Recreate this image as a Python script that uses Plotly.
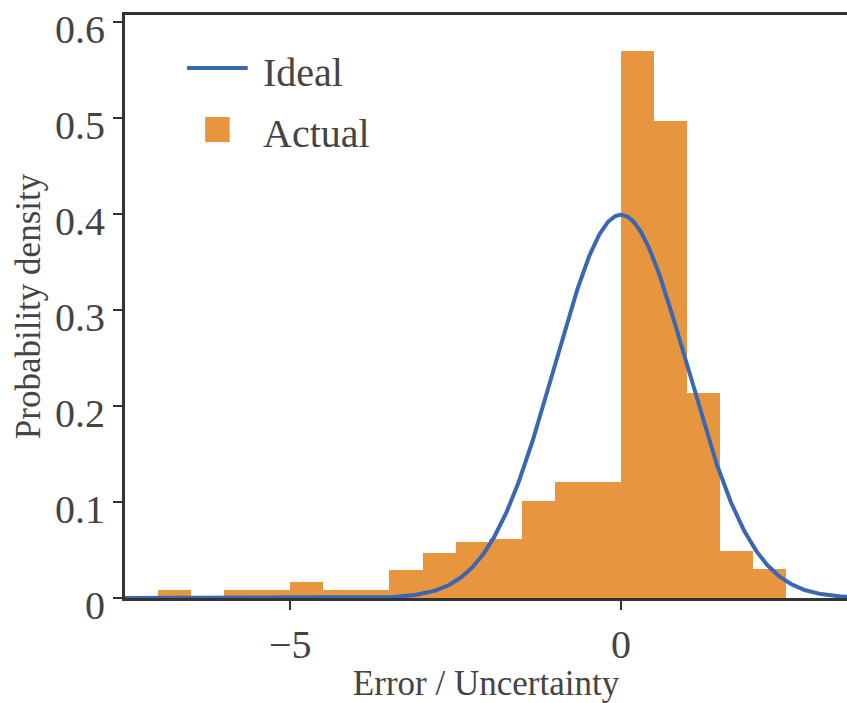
import numpy as np
import plotly.graph_objects as go

# Histogram bins (centers, width 0.5) and densities
bin_centers = [-6.75, -6.25, -5.75, -5.25, -4.75, -4.25, -3.75, -3.25, -2.75, -2.25,
               -1.75, -1.25, -0.75, -0.25, 0.25, 0.75, 1.25, 1.75, 2.25]
densities = [0.008, 0.0, 0.008, 0.008, 0.017, 0.008, 0.008, 0.029, 0.047, 0.058,
             0.061, 0.101, 0.121, 0.121, 0.570, 0.497, 0.213, 0.049, 0.030]
bin_width = 0.5

# Ideal: standard normal distribution
ideal_mean = 0.0
ideal_sigma = 1.0
x_ideal = np.linspace(-7.5, 3.45, 600)
y_ideal = np.exp(-0.5 * ((x_ideal - ideal_mean) / ideal_sigma) ** 2) / (ideal_sigma * np.sqrt(2 * np.pi))

x_ticks = [-5, 0]
x_tick_labels = ["\u22125", "0"]
y_ticks = [0, 0.1, 0.2, 0.3, 0.4, 0.5, 0.6]
y_tick_labels = ["0", "0.1", "0.2", "0.3", "0.4", "0.5", "0.6"]

FONT = "Liberation Serif"
ORANGE = "#e8953f"
BLUE = "#3a67b4"
AXIS = "#333333"
TEXT = "#444444"

fig = go.Figure()
fig.add_trace(go.Bar(x=bin_centers, y=densities, width=bin_width,
                     marker=dict(color=ORANGE, line=dict(width=0)),
                     name="Actual", showlegend=False))
fig.add_trace(go.Scatter(x=x_ideal, y=y_ideal, mode="lines",
                         line=dict(color=BLUE, width=4),
                         name="Ideal", showlegend=False))

# Manual legend (paper coordinates of the plot area: x 125-847, y 15-598 px)
fig.add_shape(type="line", xref="paper", yref="paper",
              x0=0.086, x1=0.170, y0=0.909, y1=0.909,
              line=dict(color=BLUE, width=4))
fig.add_shape(type="rect", xref="paper", yref="paper",
              x0=0.111, x1=0.145, y0=0.782, y1=0.825,
              fillcolor=ORANGE, line=dict(width=0))
fig.add_annotation(text="Ideal", xref="paper", yref="paper", x=0.188, y=0.902,
                   xanchor="left", yanchor="middle", showarrow=False,
                   font=dict(family=FONT, size=40, color=TEXT))
fig.add_annotation(text="Actual", xref="paper", yref="paper", x=0.188, y=0.797,
                   xanchor="left", yanchor="middle", showarrow=False,
                   font=dict(family=FONT, size=40, color=TEXT))

fig.update_layout(
    width=847, height=703,
    margin=dict(l=125, r=0, t=15, b=105),
    plot_bgcolor="white", paper_bgcolor="white",
    bargap=0,
    font=dict(family=FONT, color=TEXT),
    showlegend=False,
    xaxis=dict(range=[-7.5, 3.42], showgrid=False, zeroline=False,
               automargin=False,
               showline=True, linecolor=AXIS, linewidth=3, mirror=True,
               ticks="outside", ticklen=9, tickwidth=2, tickcolor=AXIS,
               tickvals=x_ticks, ticktext=x_tick_labels,
               tickfont=dict(family=FONT, size=40, color=TEXT),
               title=dict(text="Error / Uncertainty", standoff=2,
                          font=dict(family=FONT, size=35, color=TEXT))),
    yaxis=dict(range=[0, 0.607], showgrid=False, zeroline=False,
               automargin=False,
               showline=True, linecolor=AXIS, linewidth=3,
               ticks="outside", ticklen=9, tickwidth=2, tickcolor=AXIS,
               tickvals=y_ticks, ticktext=y_tick_labels,
               ticklabeloverflow="allow", ticklabelshift=7,
               tickfont=dict(family=FONT, size=40, color=TEXT),
               title=dict(text="Probability density", standoff=4,
                          font=dict(family=FONT, size=35, color=TEXT))),
)

fig.write_html("out.html")
